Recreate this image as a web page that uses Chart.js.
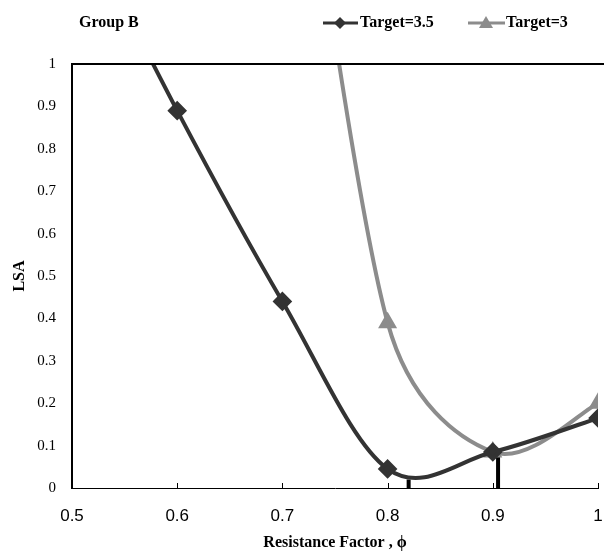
<!DOCTYPE html>
<html>
<head>
<meta charset="utf-8">
<script src="https://cdn.jsdelivr.net/npm/chart.js@4"></script>
<style>
    html, body { margin: 0; padding: 0; background: #fff; }
    #wrap { width: 604px; height: 552px; }
</style>
</head>
<body>
<div id="wrap"><canvas id="chartLSA" width="604" height="552"></canvas></div>
<script>
const phiValues = [0.5, 0.6, 0.7, 0.8, 0.9, 1.0];
const target35 = [1.38, 0.89, 0.44, 0.045, 0.085, 0.165];
const phiTarget3 = [0.7, 0.8, 0.9, 1.0];
const target3 = [1.9, 0.39, 0.085, 0.2];
const markPhi = [0.82, 0.905];
const markTop = [0.02, 0.085];
const xTicks = [0.5, 0.6, 0.7, 0.8, 0.9, 1];
const yTicks = [0, 0.1, 0.2, 0.3, 0.4, 0.5, 0.6, 0.7, 0.8, 0.9, 1];

const darkColor = '#333333';
const greyColor = '#8c8c8c';
const serif = '"Liberation Serif", "Times New Roman", serif';
const narrow = '"Liberation Sans Narrow", "Liberation Sans", Arial, sans-serif';

function toPoints(xs, ys) {
    return xs.map((x, i) => ({ x: x, y: ys[i] }));
}

const datasets = [
    {
        label: 'Target=3.5',
        data: toPoints(phiValues, target35),
        borderColor: darkColor,
        backgroundColor: darkColor,
        borderWidth: 4,
        pointStyle: 'rectRot',
        pointRadius: 7,
        tension: 0.4,
        smooth: true
    },
    {
        label: 'Target=3',
        data: toPoints(phiTarget3, target3),
        borderColor: greyColor,
        backgroundColor: greyColor,
        borderWidth: 4,
        pointStyle: 'triangle',
        pointRadius: 7,
        tension: 0.4,
        smooth: true
    }
];

markPhi.forEach((p, i) => {
    datasets.push({
        label: 'mark' + i,
        data: [{ x: p, y: 0 }, { x: p, y: markTop[i] }],
        borderColor: '#000',
        borderWidth: 4,
        pointRadius: 0,
        tension: 0
    });
});

// spreadsheet style smoothing: control points at 1/6 of the neighbour chord,
// never longer than half of the segment they belong to
function controlVec(p, q, dx, dy) {
    const seg = Math.hypot(q.x - p.x, q.y - p.y) / 2;
    const len = Math.hypot(dx, dy);
    const k = len > seg && len > 0 ? seg / len : 1;
    return { x: dx * k, y: dy * k };
}

const smoothPlugin = {
    id: 'smooth',
    beforeDatasetsDraw(chart) {
        chart.data.datasets.forEach((ds, i) => {
            if (!ds.smooth) return;
            const meta = chart.getDatasetMeta(i);
            meta.dataset.updateControlPoints(chart.chartArea, 'x');
            const pts = meta.data;
            pts.forEach((p, j) => {
                const prev = pts[j - 1] || p;
                const next = pts[j + 1] || p;
                const dx = (next.x - prev.x) / 6;
                const dy = (next.y - prev.y) / 6;
                const back = controlVec(p, prev, dx, dy);
                const fwd = controlVec(p, next, dx, dy);
                p.cp1x = p.x - back.x;
                p.cp1y = p.y - back.y;
                p.cp2x = p.x + fwd.x;
                p.cp2y = p.y + fwd.y;
            });
        });
    }
};

// frame, inner ticks, legend and group label
const decorPlugin = {
    id: 'decor',
    afterDraw(chart) {
        const ctx = chart.ctx;
        const a = chart.chartArea;
        const xs = chart.scales.x;
        ctx.save();
        ctx.strokeStyle = '#000';
        ctx.lineWidth = 2;
        ctx.beginPath();
        ctx.moveTo(a.left, a.top);
        ctx.lineTo(604, a.top);
        ctx.stroke();

        ctx.lineWidth = 1;
        xTicks.slice(1).forEach(v => {
            const px = Math.round(xs.getPixelForValue(v)) + 0.5;
            ctx.beginPath();
            ctx.moveTo(px, a.bottom);
            ctx.lineTo(px, a.bottom - 5);
            ctx.stroke();
        });

        ctx.fillStyle = '#000';
        ctx.font = 'bold 16px ' + serif;
        ctx.textBaseline = 'middle';
        ctx.textAlign = 'left';
        ctx.fillText('Group B', 79, 23);

        // legend entries
        const y = 23;
        ctx.lineWidth = 3;
        ctx.strokeStyle = darkColor;
        ctx.beginPath();
        ctx.moveTo(323, y);
        ctx.lineTo(358, y);
        ctx.stroke();
        ctx.fillStyle = darkColor;
        ctx.beginPath();
        ctx.moveTo(340, y - 6);
        ctx.lineTo(346, y);
        ctx.lineTo(340, y + 6);
        ctx.lineTo(334, y);
        ctx.closePath();
        ctx.fill();

        ctx.strokeStyle = greyColor;
        ctx.beginPath();
        ctx.moveTo(468, y);
        ctx.lineTo(505, y);
        ctx.stroke();
        ctx.fillStyle = greyColor;
        ctx.beginPath();
        ctx.moveTo(486, y - 7);
        ctx.lineTo(493, y + 5);
        ctx.lineTo(479, y + 5);
        ctx.closePath();
        ctx.fill();

        ctx.fillStyle = '#000';
        ctx.fillText('Target=3.5', 360, y);
        ctx.fillText('Target=3', 506, y);
        ctx.restore();
    }
};

new Chart(document.getElementById('chartLSA'), {
    type: 'line',
    data: { datasets: datasets },
    options: {
        responsive: false,
        animation: false,
        layout: { autoPadding: false, padding: { top: 64, right: 6, left: 0, bottom: 0 } },
        plugins: {
            legend: { display: false },
            tooltip: { enabled: false }
        },
        scales: {
            x: {
                type: 'linear',
                min: 0.5,
                max: 1,
                afterBuildTicks(scale) {
                    scale.ticks = xTicks.map(v => ({ value: v }));
                },
                afterFit(scale) {
                    scale.height = 64;
                    scale.paddingLeft = 0;
                    scale.paddingRight = 0;
                },
                grid: { display: false },
                border: { display: true, color: '#000', width: 1, dash: [2, 2] },
                ticks: {
                    color: '#000',
                    padding: 10,
                    font: { family: narrow, size: 17 },
                    callback: v => String(+v.toFixed(1))
                },
                title: {
                    display: true,
                    text: 'Resistance Factor , ϕ',
                    color: '#000',
                    font: { family: serif, size: 16, weight: 'bold' },
                    padding: { top: 2, bottom: 0 }
                }
            },
            y: {
                min: 0,
                max: 1,
                afterBuildTicks(scale) {
                    scale.ticks = yTicks.map(v => ({ value: v }));
                },
                afterFit(scale) {
                    scale.width = 72;
                    scale.paddingTop = 0;
                    scale.paddingBottom = 0;
                },
                grid: { display: false },
                border: { display: true, color: '#000', width: 2 },
                ticks: {
                    color: '#000',
                    padding: 8,
                    font: { family: serif, size: 15 },
                    callback: v => String(+v.toFixed(1))
                },
                title: {
                    display: true,
                    text: 'LSA',
                    color: '#000',
                    font: { family: serif, size: 16, weight: 'bold' },
                    padding: { top: 10, bottom: 4 }
                }
            }
        }
    },
    plugins: [smoothPlugin, decorPlugin]
});
</script>
</body>
</html>
